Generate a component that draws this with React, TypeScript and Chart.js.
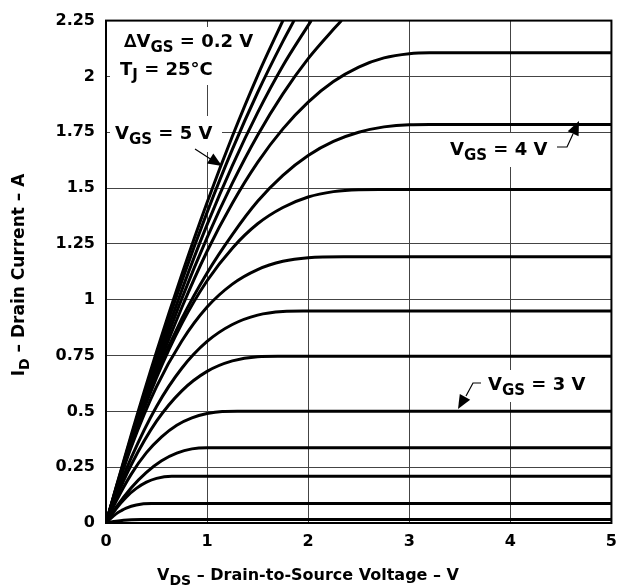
import React, { useEffect, useRef } from "react";
import { Chart, registerables } from "chart.js";

Chart.register(...registerables);

// Tick labels
const xTickLabels = ["0", "1", "2", "3", "4", "5"];
const yTickLabels = ["0", "0.25", "0.5", "0.75", "1", "1.25", "1.5", "1.75", "2", "2.25"];

// Gate voltages (ΔVGS = 0.2 V), one curve each
const vgsValues = [2.2, 2.4, 2.6, 2.8, 3.0, 3.2, 3.4, 3.6, 3.8, 4.0, 4.2, 4.4, 4.6, 4.8, 5.0];

// VDS (V) / ID (A), one pair per curve
const vds22 = [0, 0.05, 0.1, 0.175, 0.25, 0.35, 5];
const id22 = [0, 0.0042, 0.0078, 0.012, 0.0147, 0.016, 0.016];
const vds24 = [0, 0.05, 0.1, 0.15, 0.2, 0.3, 0.45, 5];
const id24 = [0, 0.022, 0.041, 0.055, 0.067, 0.081, 0.087, 0.087];
const vds26 = [0, 0.1, 0.2, 0.3, 0.4, 0.5, 0.65, 5];
const id26 = [0, 0.064, 0.116, 0.155, 0.183, 0.2, 0.209, 0.209];
const vds28 = [0, 0.1, 0.25, 0.4, 0.55, 0.7, 0.85, 1.0, 5];
const id28 = [0, 0.07, 0.158, 0.227, 0.279, 0.313, 0.332, 0.337, 0.337];
const vds30 = [0, 0.1, 0.25, 0.4, 0.55, 0.7, 0.85, 1.0, 1.15, 1.3, 5];
const id30 = [0, 0.097, 0.219, 0.315, 0.386, 0.438, 0.471, 0.49, 0.499, 0.5, 0.5];
const vds32 = [0, 0.1, 0.25, 0.5, 0.75, 1.0, 1.25, 1.5, 1.7, 5];
const id32 = [0, 0.113, 0.261, 0.456, 0.592, 0.679, 0.726, 0.745, 0.747, 0.747];
const vds34 = [0, 0.1, 0.25, 0.5, 0.75, 1.0, 1.25, 1.5, 1.75, 1.95, 5];
const id34 = [0, 0.126, 0.293, 0.522, 0.693, 0.813, 0.889, 0.931, 0.947, 0.949, 0.949];
const vds36 = [0, 0.1, 0.25, 0.5, 0.75, 1.0, 1.25, 1.5, 1.75, 2.0, 2.35, 5];
const id36 = [0, 0.143, 0.341, 0.611, 0.815, 0.967, 1.07, 1.135, 1.172, 1.188, 1.192, 1.192];
const vds38 = [0, 0.1, 0.25, 0.5, 0.75, 1.0, 1.25, 1.5, 1.75, 2.0, 2.25, 2.5, 2.7, 5];
const id38 = [0, 0.146, 0.357, 0.651, 0.893, 1.085, 1.231, 1.34, 1.413, 1.46, 1.484, 1.493, 1.494, 1.494];
const vds40 = [0, 0.1, 0.25, 0.5, 0.75, 1.0, 1.25, 1.5, 1.75, 2.0, 2.25, 2.5, 2.75, 3.0, 3.2, 5];
const id40 = [0, 0.148, 0.362, 0.665, 0.915, 1.12, 1.292, 1.441, 1.557, 1.646, 1.709, 1.75, 1.774, 1.784, 1.785, 1.785];
const vds42 = [0, 0.1, 0.25, 0.5, 0.75, 1.0, 1.25, 1.5, 1.75, 2.0, 2.25, 2.5, 2.75, 3.0, 3.2, 5];
const id42 = [0, 0.15, 0.367, 0.68, 0.965, 1.217, 1.432, 1.615, 1.765, 1.885, 1.977, 2.042, 2.083, 2.102, 2.106, 2.106];
const vds44 = [0, 0.1, 0.25, 0.5, 0.75, 1.0, 1.25, 1.5, 1.75, 2.0, 2.25, 2.33];
const id44 = [0, 0.152, 0.372, 0.7, 1.005, 1.278, 1.522, 1.737, 1.922, 2.08, 2.211, 2.25];
const vds46 = [0, 0.1, 0.25, 0.5, 0.75, 1.0, 1.25, 1.5, 1.75, 2.03];
const id46 = [0, 0.154, 0.375, 0.723, 1.043, 1.336, 1.601, 1.838, 2.048, 2.25];
const vds48 = [0, 0.1, 0.25, 0.5, 0.75, 1.0, 1.25, 1.5, 1.75, 1.86];
const id48 = [0, 0.158, 0.387, 0.748, 1.083, 1.391, 1.673, 1.928, 2.157, 2.25];
const vds50 = [0, 0.1, 0.25, 0.5, 0.75, 1.0, 1.25, 1.5, 1.75];
const id50 = [0, 0.161, 0.396, 0.767, 1.113, 1.435, 1.732, 2.004, 2.25];

const curveVds = [vds22, vds24, vds26, vds28, vds30, vds32, vds34, vds36, vds38, vds40, vds42, vds44, vds46, vds48, vds50];
const curveId = [id22, id24, id26, id28, id30, id32, id34, id36, id38, id40, id42, id44, id46, id48, id50];

const FONT = "'DejaVu Sans', 'Liberation Sans', Arial, sans-serif";

type Part = { t: string; sub?: boolean };

function measureParts(ctx: CanvasRenderingContext2D, parts: Part[], size: number, subSize: number) {
  let w = 0;
  for (const p of parts) {
    ctx.font = `bold ${p.sub ? subSize : size}px ${FONT}`;
    w += ctx.measureText(p.t).width;
  }
  return w;
}

function drawParts(
  ctx: CanvasRenderingContext2D,
  parts: Part[],
  x: number,
  y: number,
  size: number,
  subSize: number,
  subShift: number
) {
  ctx.textBaseline = "alphabetic";
  ctx.textAlign = "left";
  ctx.fillStyle = "#000";
  let cx = x;
  for (const p of parts) {
    ctx.font = `bold ${p.sub ? subSize : size}px ${FONT}`;
    ctx.fillText(p.t, cx, p.sub ? y + subShift : y);
    cx += ctx.measureText(p.t).width;
  }
}

function arrowHead(ctx: CanvasRenderingContext2D, fx: number, fy: number, tx: number, ty: number, len: number, half: number) {
  const a = Math.atan2(ty - fy, tx - fx);
  const bx = tx - len * Math.cos(a);
  const by = ty - len * Math.sin(a);
  ctx.beginPath();
  ctx.moveTo(tx, ty);
  ctx.lineTo(bx + half * Math.sin(a), by - half * Math.cos(a));
  ctx.lineTo(bx - half * Math.sin(a), by + half * Math.cos(a));
  ctx.closePath();
  ctx.fill();
}

const annotationPlugin = {
  id: "annotations",
  beforeDatasetsDraw(chart: any) {
    const ctx: CanvasRenderingContext2D = chart.ctx;
    ctx.save();
    ctx.fillStyle = "#fff";
    ctx.fillRect(110, 27, 155, 58);
    ctx.fillRect(110, 116, 112, 36);
    ctx.fillRect(445, 133, 111, 34);
    ctx.fillRect(483, 370, 109, 32);
    ctx.restore();
  },
  afterDatasetsDraw(chart: any) {
    const ctx: CanvasRenderingContext2D = chart.ctx;
    const area = chart.chartArea;
    ctx.save();
    // frame
    ctx.strokeStyle = "#000";
    ctx.lineWidth = 2;
    ctx.strokeRect(area.left, area.top, area.right - area.left, area.bottom - area.top);

    const S = 18, SS = 15, SH = 5;
    drawParts(ctx, [{ t: "\u2206V" }, { t: "GS", sub: true }, { t: " = 0.2 V" }], 124, 47, S, SS, SH);
    drawParts(ctx, [{ t: "T" }, { t: "J", sub: true }, { t: " = 25\u00B0C" }], 120, 75, S, SS, SH);
    drawParts(ctx, [{ t: "V" }, { t: "GS", sub: true }, { t: " = 5 V" }], 115, 139, S, SS, SH);
    drawParts(ctx, [{ t: "V" }, { t: "GS", sub: true }, { t: " = 4 V" }], 450, 155, S, SS, SH);
    drawParts(ctx, [{ t: "V" }, { t: "GS", sub: true }, { t: " = 3 V" }], 488, 390, S, SS, SH);

    ctx.strokeStyle = "#000";
    ctx.fillStyle = "#000";
    ctx.lineWidth = 1.2;
    // 5 V arrow
    ctx.beginPath();
    ctx.moveTo(195, 149);
    ctx.lineTo(212, 160);
    ctx.stroke();
    arrowHead(ctx, 195, 149, 222, 166, 14, 6);
    // 4 V leader
    ctx.beginPath();
    ctx.moveTo(557, 147);
    ctx.lineTo(567, 147);
    ctx.lineTo(573, 134);
    ctx.stroke();
    arrowHead(ctx, 567, 147, 579, 121, 14, 6);
    // 3 V leader
    ctx.beginPath();
    ctx.moveTo(481, 383);
    ctx.lineTo(473, 383);
    ctx.lineTo(466, 396);
    ctx.stroke();
    arrowHead(ctx, 473, 383, 458, 409, 14, 6);

    // axis titles
    const xParts: Part[] = [{ t: "V" }, { t: "DS", sub: true }, { t: " \u2013 Drain-to-Source Voltage \u2013 V" }];
    const xw = measureParts(ctx, xParts, 16, 14);
    drawParts(ctx, xParts, 308 - xw / 2, 580, 16, 14, 5);

    const yParts: Part[] = [{ t: "I" }, { t: "D", sub: true }, { t: " \u2013 Drain Current \u2013 A" }];
    const yw = measureParts(ctx, yParts, 17, 14);
    ctx.translate(24, 275);
    ctx.rotate(-Math.PI / 2);
    drawParts(ctx, yParts, -yw / 2, 0, 17, 14, 5);
    ctx.restore();
  },
};

export default function App() {
  const canvasRef = useRef<HTMLCanvasElement | null>(null);

  useEffect(() => {
    if (!canvasRef.current) return;
    const datasets = vgsValues.map((vgs, i) => ({
      label: `VGS = ${vgs} V`,
      data: curveVds[i].map((v, k) => ({ x: v, y: curveId[i][k] })),
      borderColor: "#000",
      borderWidth: 3,
      pointRadius: 0,
      fill: false,
      cubicInterpolationMode: "monotone" as const,
    }));

    const chart = new Chart(canvasRef.current, {
      type: "line",
      data: { datasets },
      options: {
        responsive: false,
        animation: false,
        layout: { padding: { left: 0, top: 14, right: 9, bottom: 0 } },
        plugins: { legend: { display: false }, tooltip: { enabled: false } },
        scales: {
          x: {
            type: "linear",
            min: 0,
            max: 5,
            afterFit: (s: any) => {
              s.height = 65;
            },
            ticks: {
              stepSize: 1,
              padding: 9,
              color: "#000",
              font: { family: FONT, size: 16, weight: "bold" },
              callback: (_v: any, i: number) => xTickLabels[i],
              maxRotation: 0,
            },
            grid: { color: "#444", lineWidth: 1, drawTicks: false },
            border: { display: false },
          },
          y: {
            type: "linear",
            min: 0,
            max: 2.25,
            afterFit: (s: any) => {
              s.width = 106;
            },
            ticks: {
              stepSize: 0.25,
              padding: 11,
              color: "#000",
              font: { family: FONT, size: 16, weight: "bold" },
              callback: (_v: any, i: number) => yTickLabels[i],
            },
            grid: { color: "#444", lineWidth: 1, drawTicks: false },
            border: { display: false },
          },
        },
      },
      plugins: [annotationPlugin],
    });
    return () => chart.destroy();
  }, []);

  return (
    <div style={{ position: "fixed", left: 0, top: 0, width: 626, height: 588, background: "#fff" }}>
      <canvas ref={canvasRef} width={626} height={588} style={{ display: "block" }} />
    </div>
  );
}
